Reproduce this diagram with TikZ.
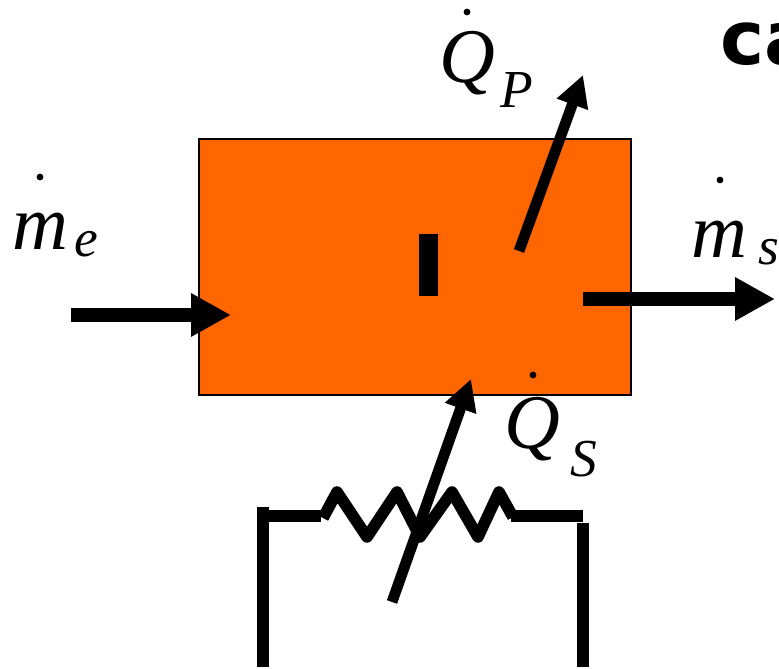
\documentclass[tikz,border=0pt]{standalone}
\usepackage{fontspec}
\setmainfont{Liberation Serif}
\newfontfamily\capfont{DejaVu Sans}
\usepackage{xcolor}
\usepackage{tikz}
\usetikzlibrary{arrows.meta}
\definecolor{boxorange}{HTML}{FF6600}

\begin{document}
\begin{tikzpicture}[
  x=1cm,
  y=1cm,
  volume/.style={draw=black, fill=boxorange, line width=0.06cm, minimum width=10.8cm, minimum height=6.4cm, inner sep=0pt},
  bar/.style={fill=black, minimum width=0.475cm, minimum height=1.55cm, inner sep=0pt},
  flow/.style={-{Triangle[length=1cm,width=1.02cm]}, line width=0.35cm},
  heat/.style={-{Triangle[length=0.78cm,width=0.78cm]}, line width=0.27cm},
  wire/.style={line width=0.28cm},
  coil/.style={line width=0.29cm, line join=round},
  symb/.style={anchor=base west, inner sep=0pt, font=\fontsize{55}{55}\selectfont\itshape},
  subsymb/.style={anchor=base west, inner sep=0pt, font=\fontsize{38}{38}\selectfont\itshape},
  dotmark/.style={circle, fill=black, minimum size=0.17cm, inner sep=0pt}
]
  \useasboundingbox (0,0) rectangle (19.475,16.725);

  \node[volume] (cv) at (10.375,10.05) {};
  \node[bar] (midbar) at (10.71,10.1) {};

  \coordinate (inStart) at (1.775,8.85);
  \coordinate (inEnd) at (5.775,8.85);
  \coordinate (outStart) at (14.575,9.25);
  \coordinate (outEnd) at (19.375,9.25);
  \coordinate (qpStart) at (12.975,10.45);
  \coordinate (qpEnd) at (14.575,14.85);
  \coordinate (qsStart) at (9.8,1.675);
  \coordinate (qsEnd) at (11.775,7.25);
  \draw[flow] (inStart) -- (inEnd);
  \draw[flow] (outStart) -- (outEnd);
  \draw[heat] (qpStart) -- (qpEnd);

  \coordinate (leftTop) at (6.575,4.05);
  \coordinate (leftBot) at (6.575,0.05);
  \coordinate (rightTop) at (14.575,3.65);
  \coordinate (rightBot) at (14.575,0.05);
  \coordinate (leftIn) at (6.7,3.825);
  \coordinate (leftOut) at (8.025,3.825);
  \coordinate (rightIn) at (12.775,3.825);
  \coordinate (rightOut) at (14.575,3.825);
  \draw[wire] (leftTop) -- (leftBot);
  \draw[wire] (rightTop) -- (rightBot);
  \draw[wire] (leftIn) -- (leftOut);
  \draw[wire] (rightIn) -- (rightOut);
  \draw[coil] (8.075,3.775) -- (8.425,4.425) -- (9.175,3.3) -- (9.925,4.425) -- (10.5,3.3)
    -- (11.3,4.425) -- (11.95,3.3) -- (12.475,4.425) -- (12.825,3.8);
  \draw[heat] (qsStart) -- (qsEnd);

  \node[symb] (mE) at (0.3,10.475) {m};
  \node[subsymb] (mEsub) at (1.85,10.3) {e};
  \node[dotmark] (mEdot) at (1,12.3) {};
  \node[symb] (qP) at (10.975,14.65) {Q};
  \node[subsymb] (qPsub) at (12.5,14.025) {P};
  \node[dotmark] (qPdot) at (11.675,16.425) {};
  \node[symb] (mS) at (17.275,10.275) {m};
  \node[subsymb] (mSsub) at (18.95,10.1) {s};
  \node[dotmark] (mSdot) at (18,12.225) {};
  \node[symb] (qS) at (12.6,5.5) {Q};
  \node[subsymb] (qSsub) at (14.25,4.8) {S};
  \node[dotmark] (qSdot) at (13.325,7.35) {};
  \node[anchor=base west, inner sep=0pt, font=\capfont\bfseries\fontsize{53}{53}\selectfont] (capText) at (18,15.1) {ca};
\end{tikzpicture}
\end{document}
